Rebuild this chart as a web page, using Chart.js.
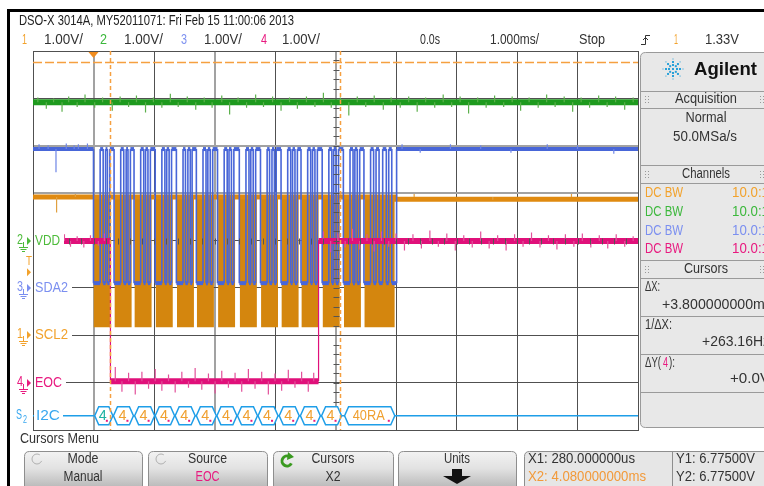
<!DOCTYPE html>
<html>
<head>
<meta charset="utf-8">
<script src="https://cdn.jsdelivr.net/npm/chart.js@4.4.1/dist/chart.umd.min.js"></script>
<style>
html, body { margin: 0; padding: 0; background: #fff; }
#wrap { position: relative; width: 764px; height: 486px; overflow: hidden; }
</style>
</head>
<body>
<div id="wrap"><canvas id="scope" width="764" height="486"></canvas></div>
<script>
// time in ms (1.000 ms/div), levels in volts (1.00 V/div on every channel)
var chOffset = { 1: 2, 2: 4, 3: 3, 4: 1 };   // ground marker position, divisions from bottom

// ch1 SCL2 (orange): clock bursts, solid at this time base
var sclBurstStart = [0.00, 0.35, 0.68, 1.03, 1.38, 1.71, 2.06, 2.42, 2.77, 3.11, 3.44, 3.79, 4.14, 4.48];
var sclBurstEnd   = [0.29, 0.63, 0.96, 1.31, 1.66, 1.99, 2.34, 2.70, 3.05, 3.39, 3.72, 4.07, 4.42, 4.98];
var sclHigh = 2.92, sclLow = 0.17;
var sclIdleT = [-1, 4.98, 9];
var sclIdleV = [2.92, 2.87, 2.87];

// ch3 SDA2 (blue): edge times, level toggles at each edge, starts high
var sdaEdges = [0.00, 0.11, 0.16, 0.20, 0.23, 0.27,
                0.34, 0.45, 0.50, 0.54, 0.57, 0.61,
                0.67, 0.78, 0.83, 0.86, 0.90, 0.94,
                1.02, 1.13, 1.18, 1.21, 1.25, 1.29,
                1.37, 1.48, 1.52, 1.56, 1.60, 1.63,
                1.70, 1.81, 1.86, 1.89, 1.93, 1.97,
                2.05, 2.16, 2.21, 2.24, 2.28, 2.32,
                2.41, 2.52, 2.57, 2.60, 2.64, 2.68,
                2.76, 2.87, 2.91, 2.95, 2.99, 3.02,
                3.10, 3.21, 3.26, 3.29, 3.33, 3.37,
                3.43, 3.54, 3.59, 3.62, 3.66, 3.70,
                3.78, 3.89, 3.94, 3.97, 4.01, 4.05,
                4.13, 4.24, 4.29, 4.32, 4.36, 4.40,
                4.47, 4.58, 4.63, 4.67, 4.72, 4.78, 4.84, 4.88, 4.93, 5.01];
var sdaHigh = 2.93, sdaLow = 0.10;

// ch2 VDD (green)
var vddLevel = 2.92;

// ch4 EOC (magenta)
var eocStart = -0.52;
var eocEdges = [0.28, 3.72];
var eocHigh = 2.99, eocLow = 0.03;

// noise spikes: [time ms, excursion V]
var greenSpikes = [[-0.92, 0.10], [-0.78, -0.14], [-0.66, 0.08], [-0.52, -0.2], [-0.41, 0.12], [-0.27, -0.1],
  [-0.14, 0.16], [0.02, -0.12], [0.15, 0.1], [0.31, -0.18], [0.44, 0.12], [0.58, -0.1], [0.71, 0.14],
  [0.86, -0.22], [0.99, 0.1], [1.13, -0.12], [1.27, 0.18], [1.4, -0.1], [1.55, 0.12], [1.69, -0.16],
  [1.83, 0.1], [1.96, -0.12], [2.12, 0.14], [2.25, -0.26], [2.39, 0.1], [2.53, -0.12], [2.68, 0.16],
  [2.81, -0.1], [2.96, 0.12], [3.1, -0.18], [3.24, 0.1], [3.37, -0.14], [3.52, 0.12], [3.66, -0.1],
  [3.8, 0.2], [3.93, -0.12], [4.08, 0.1], [4.22, -0.28], [4.36, 0.12], [4.5, -0.1], [4.64, 0.14],
  [4.79, -0.16], [4.92, 0.1], [5.07, -0.12], [5.21, 0.12], [5.35, -0.2], [5.49, 0.1], [5.64, -0.12],
  [5.78, 0.16], [5.92, -0.1], [6.06, 0.12], [6.2, -0.24], [6.35, 0.1], [6.49, -0.12], [6.63, 0.14],
  [6.78, -0.1], [6.92, 0.12], [7.06, -0.18], [7.2, 0.1], [7.35, -0.12], [7.49, 0.16], [7.63, -0.1],
  [7.78, 0.12], [7.92, -0.2], [8.06, 0.1], [8.2, -0.12], [8.35, 0.14], [8.49, -0.1], [8.63, 0.12],
  [8.78, -0.16], [8.92, 0.1]];
var magentaSpikes = [[-0.48, 0.14], [-0.38, -0.12], [-0.27, 0.1], [-0.16, -0.14], [-0.05, 0.12], [0.08, -0.1],
  [0.18, 0.16], [0.36, 0.3], [0.47, -0.22], [0.58, 0.18], [0.69, -0.28], [0.8, 0.2], [0.91, -0.16],
  [1.02, 0.26], [1.13, -0.2], [1.24, 0.14], [1.35, -0.24], [1.46, 0.2], [1.57, -0.14], [1.68, 0.28],
  [1.79, -0.18], [1.9, 0.16], [2.01, -0.26], [2.12, 0.22], [2.23, -0.14], [2.34, 0.18], [2.45, -0.22],
  [2.56, 0.26], [2.67, -0.16], [2.78, 0.2], [2.89, -0.28], [3.0, 0.16], [3.11, -0.2], [3.22, 0.24],
  [3.33, -0.14], [3.44, 0.2], [3.55, -0.22], [3.64, 0.18], [3.8, 0.2], [3.92, -0.24], [4.04, 0.16],
  [4.16, -0.14], [4.28, 0.26], [4.4, -0.18], [4.52, 0.14], [4.64, -0.22], [4.76, 0.2], [4.88, -0.12],
  [5.0, 0.16], [5.14, -0.2], [5.28, 0.14], [5.42, -0.16], [5.56, 0.22], [5.7, -0.12], [5.84, 0.16],
  [5.98, -0.2], [6.12, 0.12], [6.26, -0.14], [6.4, 0.2], [6.54, -0.16], [6.68, 0.12], [6.82, -0.2],
  [6.96, 0.14], [7.1, -0.12], [7.24, 0.18], [7.38, -0.14], [7.52, 0.12], [7.66, -0.18], [7.8, 0.14],
  [7.94, -0.12], [8.08, 0.16], [8.22, -0.14], [8.36, 0.12], [8.5, -0.16], [8.64, 0.14], [8.78, -0.12],
  [8.92, 0.1]];
var blueSpikes = [[-0.9, 0.1], [-0.75, 0.08], [-0.62, -0.49], [-0.45, 0.12], [-0.32, 0.08], [-0.25, 0.1],
  [-0.1, 0.12], [5.1, 0.1], [5.4, -0.08], [5.9, 0.1], [6.4, 0.08], [6.9, -0.08], [7.5, 0.1], [8.0, 0.08],
  [8.6, -0.1]];
var orangeSpikes = [[-0.61, -0.33], [-0.3, 0.06], [5.3, 0.06], [6.6, -0.06], [7.9, 0.06]];

// I2C serial decode
var i2cStart = [0.02, 0.33, 0.68, 1.02, 1.35, 1.70, 2.04, 2.38, 2.72, 3.07, 3.42, 3.77, 4.15];
var i2cEnd   = [0.32, 0.66, 1.01, 1.34, 1.68, 2.03, 2.37, 2.71, 3.05, 3.40, 3.75, 4.10, 4.98];
var i2cText  = ['4', '4', '4', '4', '4', '4', '4', '4', '4', '4', '4', '4', '40RA'];
var i2cLevel = 0.3;

// cursors and trigger
var cursorX1 = 0.28, cursorX2 = 4.08, cursorY = 6.775;   // Y on ch4
var trigLevel = 1.33;                                    // ch1

var FONT = "'Liberation Sans Narrow', 'Liberation Sans', Arial, sans-serif";

function stepTrace(t0, edges, first, second, tEnd, off) {
  var pts = [{x: t0, y: first + off}], lvl = first;
  edges.forEach(function (t) {
    pts.push({x: t, y: lvl + off});
    lvl = (lvl === first) ? second : first;
    pts.push({x: t, y: lvl + off});
  });
  pts.push({x: tEnd, y: lvl + off});
  return pts;
}

function levelAt(edges, first, second, t) {
  var n = 0;
  edges.forEach(function (e) { if (e <= t) n++; });
  return n % 2 ? second : first;
}

function spikes(list, base, off) {
  var pts = [];
  list.forEach(function (s) {
    var b = base(s[0]) + off;
    pts.push({x: s[0], y: b}, {x: s[0], y: b + s[1]}, {x: s[0], y: null});
  });
  return pts;
}

var sclFill = [];
sclBurstStart.forEach(function (s, i) {
  var o = chOffset[1];
  sclFill.push({x: s, y: sclLow + o}, {x: s, y: sclHigh + o},
               {x: sclBurstEnd[i], y: sclHigh + o}, {x: sclBurstEnd[i], y: sclLow + o});
});
var sclIdle = [];
sclIdleT.forEach(function (t, i) {
  if (i > 0) sclIdle.push({x: t, y: sclIdleV[i - 1] + chOffset[1]});
  sclIdle.push({x: t, y: sclIdleV[i] + chOffset[1]});
});

var thinEdges = function (wide, thin) {
  return function (c) { return c.p0.parsed.x === c.p1.parsed.x ? thin : wide; };
};

function label(ctx, s, x, y, w, color, size, align, bold) {
  ctx.save();
  ctx.font = (bold ? 'bold ' : '') + (size || 14) + 'px ' + FONT;
  ctx.fillStyle = color || '#2e2e2e';
  ctx.textBaseline = 'middle';
  ctx.textAlign = align || 'left';
  var m = ctx.measureText(s).width;
  ctx.translate(x, y);
  if (w && m) ctx.scale(w / m, 1);
  ctx.fillText(s, 0, 0);
  ctx.restore();
}

function rrect(ctx, x, y, w, h, r) {
  ctx.beginPath();
  ctx.moveTo(x + r, y);
  ctx.lineTo(x + w - r, y); ctx.quadraticCurveTo(x + w, y, x + w, y + r);
  ctx.lineTo(x + w, y + h - r); ctx.quadraticCurveTo(x + w, y + h, x + w - r, y + h);
  ctx.lineTo(x + r, y + h); ctx.quadraticCurveTo(x, y + h, x, y + h - r);
  ctx.lineTo(x, y + r); ctx.quadraticCurveTo(x, y, x + r, y);
  ctx.closePath();
}

var scopeOverlay = {
  id: 'scopeOverlay',
  afterDraw: function (chart) {
    var ctx = chart.ctx, xs = chart.scales.x, ys = chart.scales.y, a = chart.chartArea;
    var px = function (v) { return xs.getPixelForValue(v); };
    var py = function (v) { return ys.getPixelForValue(v); };

    // centre graticule minor ticks
    ctx.save();
    ctx.strokeStyle = '#555'; ctx.lineWidth = 1;
    var cx = Math.round(px(4)) + 0.5, cy = Math.round(py(4)) + 0.5;
    for (var k = 1; k < 40; k++) {
      var ty = Math.round(a.top + k * (a.bottom - a.top) / 40) + 0.5;
      ctx.beginPath(); ctx.moveTo(cx - 3, ty); ctx.lineTo(cx + 3, ty); ctx.stroke();
    }
    for (k = 1; k < 50; k++) {
      var tx = Math.round(a.left + k * (a.right - a.left) / 50) + 0.5;
      ctx.beginPath(); ctx.moveTo(tx, cy - 3); ctx.lineTo(tx, cy + 3); ctx.stroke();
    }
    ctx.restore();

    // I2C decode bus
    var by = py(i2cLevel);
    ctx.save();
    ctx.strokeStyle = '#1e9ee8'; ctx.lineWidth = 1.5;
    ctx.beginPath(); ctx.moveTo(a.left, by); ctx.lineTo(a.right, by); ctx.stroke();
    i2cStart.forEach(function (s, i) {
      var x0 = px(s), x1 = px(i2cEnd[i]);
      ctx.beginPath();
      ctx.moveTo(x0, by); ctx.lineTo(x0 + 4, by - 9); ctx.lineTo(x1 - 4, by - 9);
      ctx.lineTo(x1, by); ctx.lineTo(x1 - 4, by + 9); ctx.lineTo(x0 + 4, by + 9); ctx.closePath();
      ctx.fillStyle = '#fff'; ctx.fill();
      ctx.strokeStyle = '#1e9ee8'; ctx.stroke();
      var tw = i2cText[i].length > 1 ? 32 : 8;
      label(ctx, i2cText[i], (x0 + x1) / 2 - 1, by, tw, i === 0 ? '#1fb3a3' : '#f0a030', 15, 'center');
      ctx.fillStyle = '#e8197f';
      ctx.fillRect(x1 - 7, by + 4, 2, 2);
    });
    ctx.restore();

    // cursors
    ctx.save();
    ctx.strokeStyle = '#f5a040'; ctx.lineWidth = 1.5;
    ctx.setLineDash([4, 3]);
    [cursorX1, cursorX2].forEach(function (c) {
      var x = Math.round(px(c)) + 0.5;
      ctx.beginPath(); ctx.moveTo(x, a.top); ctx.lineTo(x, a.bottom); ctx.stroke();
    });
    ctx.setLineDash([9, 3]);
    var yc = Math.round(py(cursorY + chOffset[4])) + 0.5;
    ctx.beginPath(); ctx.moveTo(a.left, yc); ctx.lineTo(a.right, yc); ctx.stroke();
    ctx.restore();

    // trigger position marker
    ctx.save();
    ctx.fillStyle = '#f08c1e';
    var t0 = px(0);
    ctx.beginPath(); ctx.moveTo(t0 - 5, a.top + 1); ctx.lineTo(t0 + 5, a.top + 1); ctx.lineTo(t0, a.top + 7); ctx.closePath(); ctx.fill();
    ctx.restore();

    // channel labels and ground markers
    var rows = [
      {txt: 'VDD', num: '2', ch: 2, col: '#4dbb3a', w: 25},
      {txt: 'SDA2', num: '3', ch: 3, col: '#7b8ff0', w: 33},
      {txt: 'SCL2', num: '1', ch: 1, col: '#f2a22c', w: 33},
      {txt: 'EOC', num: '4', ch: 4, col: '#e8197f', w: 27}
    ];
    rows.forEach(function (r) {
      var gy = Math.round(py(chOffset[r.ch]));
      ctx.fillStyle = '#fff';
      ctx.fillRect(a.left + 1, gy - 8, r.w + 5, 16);
      label(ctx, r.txt, 35, gy, r.w, r.col, 15);
      label(ctx, r.num, 17, gy - 1, 6, r.col, 14);
      ctx.fillStyle = r.col;
      ctx.beginPath(); ctx.moveTo(27, gy - 4); ctx.lineTo(31, gy); ctx.lineTo(27, gy + 4); ctx.closePath(); ctx.fill();
      ctx.strokeStyle = r.col; ctx.lineWidth = 1;
      ctx.beginPath();
      ctx.moveTo(23.5, gy + 1); ctx.lineTo(23.5, gy + 6);
      ctx.moveTo(19, gy + 6.5); ctx.lineTo(28, gy + 6.5);
      ctx.moveTo(20.5, gy + 8.5); ctx.lineTo(26.5, gy + 8.5);
      ctx.moveTo(22, gy + 10.5); ctx.lineTo(25, gy + 10.5);
      ctx.stroke();
    });
    ctx.fillStyle = '#fff';
    ctx.fillRect(a.left + 1, by - 8, 29, 16);
    label(ctx, 'I2C', 36, by, 24, '#3aa8f0', 15);
    label(ctx, 'S', 16, by - 1, 6, '#3aa8f0', 14);
    label(ctx, '2', 23, by + 4, 4, '#3aa8f0', 10);
    var tly = py(trigLevel + chOffset[1]);
    label(ctx, 'T', 29, tly - 11, 6, '#f2a22c', 13, 'center');
    ctx.fillStyle = '#f2a22c';
    ctx.beginPath(); ctx.moveTo(27, tly - 4); ctx.lineTo(31, tly); ctx.lineTo(27, tly + 4); ctx.closePath(); ctx.fill();

    // frame
    ctx.fillStyle = '#000';
    ctx.fillRect(7, 9, 757, 3);
    ctx.fillRect(7, 9, 3, 477);

    // header
    label(ctx, 'DSO-X 3014A, MY52011071: Fri Feb 15 11:00:06 2013', 19, 21, 275, '#222', 15);
    var hdr = [
      ['1', 22, 5, '#f2a22c'], ['1.00V/', 44, 39, '#333'],
      ['2', 100, 7, '#3cb83c'], ['1.00V/', 124, 39, '#333'],
      ['3', 181, 6, '#7b8ff0'], ['1.00V/', 204, 38, '#333'],
      ['4', 261, 6, '#e8197f'], ['1.00V/', 282, 38, '#333'],
      ['0.0s', 420, 20, '#333'], ['1.000ms/', 490, 49, '#333'],
      ['Stop', 579, 26, '#333'], ['1', 674, 4, '#f2a22c'], ['1.33V', 705, 34, '#333']
    ];
    hdr.forEach(function (h) { label(ctx, h[0], h[1], 40, h[2], h[3], 14); });
    ctx.strokeStyle = '#333'; ctx.lineWidth = 1;
    ctx.beginPath();
    ctx.moveTo(641, 44.5); ctx.lineTo(645.5, 44.5); ctx.lineTo(645.5, 35.5); ctx.lineTo(650, 35.5);
    ctx.moveTo(643, 40); ctx.lineTo(645.5, 37.5); ctx.lineTo(648, 40);
    ctx.stroke();

    // side panel
    ctx.save();
    rrect(ctx, 640.5, 52.5, 140, 375, 5);
    ctx.fillStyle = '#e8e8e8'; ctx.fill();
    ctx.strokeStyle = '#9a9a9a'; ctx.stroke();
    [91, 108, 165, 183, 260, 278, 316, 354, 392].forEach(function (y) {
      ctx.beginPath(); ctx.moveTo(641, y + 0.5); ctx.lineTo(764, y + 0.5); ctx.stroke();
    });
    ctx.fillStyle = '#999';
    [99, 174, 269].forEach(function (y) {
      [645, 760].forEach(function (x) {
        for (var i = 0; i < 2; i++) for (var j = 0; j < 3; j++) ctx.fillRect(x + i * 3, y - 3 + j * 3, 1, 1);
      });
    });
    // logo
    ctx.fillStyle = '#29a0d8';
    for (var r = 0; r < 8; r++) {
      var ang = r * Math.PI / 4;
      [4, 7, 10].forEach(function (d, q) {
        var s = q === 2 ? 1 : 2;
        ctx.fillRect(673 + Math.cos(ang) * d - s / 2, 69 + Math.sin(ang) * d - s / 2, s, s);
      });
    }
    ctx.fillRect(672, 68, 2, 2);
    ctx.restore();
    label(ctx, 'Agilent', 694, 70, 63, '#111', 19, 'left', true);
    label(ctx, 'Acquisition', 706, 99, 62, '#333', 14, 'center');
    label(ctx, 'Normal', 706, 118, 41, '#333', 14, 'center');
    label(ctx, '50.0MSa/s', 705, 137, 64, '#333', 14, 'center');
    label(ctx, 'Channels', 706, 174, 48, '#333', 14, 'center');
    [['#f2a22c', 193], ['#3cb83c', 212], ['#7b8ff0', 231], ['#e8197f', 249]].forEach(function (c) {
      label(ctx, 'DC BW', 645, c[1], 38, c[0], 14);
      label(ctx, '10.0:1', 732, c[1], 37, c[0], 14);
    });
    label(ctx, 'Cursors', 706, 269, 44, '#333', 14, 'center');
    label(ctx, '\u0394X:', 645, 287, 15, '#333', 14);
    label(ctx, '+3.800000000ms', 662, 305, 110, '#333', 14);
    label(ctx, '1/\u0394X:', 645, 325, 27, '#333', 14);
    label(ctx, '+263.16Hz', 702, 342, 68, '#333', 14);
    label(ctx, '\u0394Y(', 645, 363, 16, '#333', 14);
    label(ctx, '4', 663, 363, 5, '#e8197f', 14);
    label(ctx, '):', 669, 363, 6, '#333', 14);
    label(ctx, '+0.0V', 730, 379, 40, '#333', 14);

    // softkey menu
    label(ctx, 'Cursors Menu', 20, 439, 79, '#333', 14);
    var keys = [
      [24, 142, 'Mode', 31, 'Manual', 39, '#333'],
      [148, 267, 'Source', 39, 'EOC', 24, '#e8197f'],
      [273, 393, 'Cursors', 43, 'X2', 15, '#333'],
      [398, 516, 'Units', 26, '', 0, '#333']
    ];
    keys.forEach(function (k) {
      ctx.save();
      rrect(ctx, k[0] + 0.5, 451.5, k[1] - k[0], 40, 5);
      var g = ctx.createLinearGradient(0, 451, 0, 486);
      g.addColorStop(0, '#f3f3f3'); g.addColorStop(0.5, '#e2e2e2'); g.addColorStop(1, '#bcbcbc');
      ctx.fillStyle = g; ctx.fill();
      ctx.strokeStyle = '#8e8e8e'; ctx.stroke();
      ctx.restore();
      var mid = (k[0] + k[1]) / 2;
      label(ctx, k[2], mid, 459, k[3], '#333', 14, 'center');
      if (k[4]) label(ctx, k[4], mid, 477, k[5], k[6], 14, 'center');
    });
    ctx.save();
    ctx.strokeStyle = '#b0b0b0'; ctx.lineWidth = 1;
    [37, 161].forEach(function (x) {
      ctx.beginPath(); ctx.arc(x, 459, 5, 0.4, Math.PI * 1.7); ctx.stroke();
    });
    ctx.strokeStyle = '#3a9a20'; ctx.lineWidth = 3;
    ctx.beginPath(); ctx.arc(287, 461, 5, 0.5, Math.PI * 1.75); ctx.stroke();
    ctx.fillStyle = '#3a9a20';
    ctx.beginPath(); ctx.moveTo(288, 452); ctx.lineTo(294, 457); ctx.lineTo(287, 460); ctx.closePath(); ctx.fill();
    ctx.fillStyle = '#111';
    ctx.fillRect(452, 469, 10, 7);
    ctx.beginPath(); ctx.moveTo(443, 476); ctx.lineTo(471, 476); ctx.lineTo(457, 484); ctx.closePath(); ctx.fill();
    // readout
    rrect(ctx, 524.5, 451.5, 250, 40, 5);
    ctx.fillStyle = '#e6e6e6'; ctx.fill();
    ctx.strokeStyle = '#8e8e8e'; ctx.lineWidth = 1; ctx.stroke();
    ctx.beginPath(); ctx.moveTo(672.5, 452); ctx.lineTo(672.5, 486); ctx.stroke();
    ctx.restore();
    label(ctx, 'X1: 280.000000us', 528, 459, 107, '#333', 14);
    label(ctx, 'X2: 4.080000000ms', 528, 477, 118, '#f29a3a', 14);
    label(ctx, 'Y1: 6.77500V', 676, 459, 79, '#333', 14);
    label(ctx, 'Y2: 6.77500V', 676, 477, 79, '#333', 14);
  }
};

var gridColor = function (grey) {
  return function (c) { return grey.indexOf(c.tick.value) >= 0 ? '#a2a2a2' : '#505050'; };
};
var gridWidth = function (grey) {
  return function (c) { return grey.indexOf(c.tick.value) >= 0 ? 2 : 1; };
};

var eocBase = function (t) { return levelAt(eocEdges, eocHigh, eocLow, t); };

var chart = new Chart(document.getElementById('scope').getContext('2d'), {
  type: 'line',
  data: {
    datasets: [
      { label: 'EOC noise', data: spikes(magentaSpikes, eocBase, chOffset[4]),
        borderColor: '#e2509a', borderWidth: 1.2 },
      { label: 'EOC', data: stepTrace(eocStart, eocEdges, eocHigh, eocLow, 9, chOffset[4]),
        borderColor: '#e0107a', borderWidth: 6, segment: { borderWidth: thinEdges(6, 1.2) } },
      { label: 'SDA2 noise', data: spikes(blueSpikes, function () { return sdaHigh; }, chOffset[3]),
        borderColor: '#6f86e6', borderWidth: 1.2 },
      { label: 'SDA2', data: stepTrace(-1, sdaEdges, sdaHigh, sdaLow, 9, chOffset[3]),
        borderColor: '#4866d8', borderWidth: 3, segment: { borderWidth: thinEdges(4, 1.6) } },
      { label: 'SCL2 noise', data: spikes(orangeSpikes, function () { return sclHigh; }, chOffset[1]),
        borderColor: '#e0a040', borderWidth: 1.2 },
      { label: 'SCL2', data: sclIdle, borderColor: '#e08a10', borderWidth: 5 },
      { label: 'SCL2 bursts', data: sclFill, borderWidth: 0, borderColor: 'rgba(0,0,0,0)',
        backgroundColor: '#d4860e', fill: { value: sclLow + chOffset[1] } },
      { label: 'VDD noise', data: spikes(greenSpikes, function () { return vddLevel; }, chOffset[2]),
        borderColor: '#5cb04c', borderWidth: 1.2 },
      { label: 'VDD', data: [{x: -1, y: vddLevel + chOffset[2]}, {x: 9, y: vddLevel + chOffset[2]}],
        borderColor: '#1e9a1e', borderWidth: 6 }
    ]
  },
  options: {
    responsive: false,
    animation: false,
    devicePixelRatio: 1,
    layout: { padding: { left: 33, top: 51, right: 126, bottom: 56 } },
    elements: { point: { radius: 0 }, line: { tension: 0 } },
    plugins: { legend: { display: false }, tooltip: { enabled: false } },
    scales: {
      x: {
        type: 'linear', min: -1, max: 9,
        ticks: { display: false, stepSize: 1 },
        grid: { drawTicks: false, color: gridColor([0, 2, 4]), lineWidth: gridWidth([0, 2, 4]) },
        border: { display: true, color: '#505050' }
      },
      y: {
        type: 'linear', min: 0, max: 8,
        ticks: { display: false, stepSize: 1 },
        grid: { drawTicks: false, color: gridColor([5, 6]), lineWidth: gridWidth([5, 6]) },
        border: { display: true, color: '#505050' }
      }
    }
  },
  plugins: [scopeOverlay]
});
</script>
</body>
</html>
